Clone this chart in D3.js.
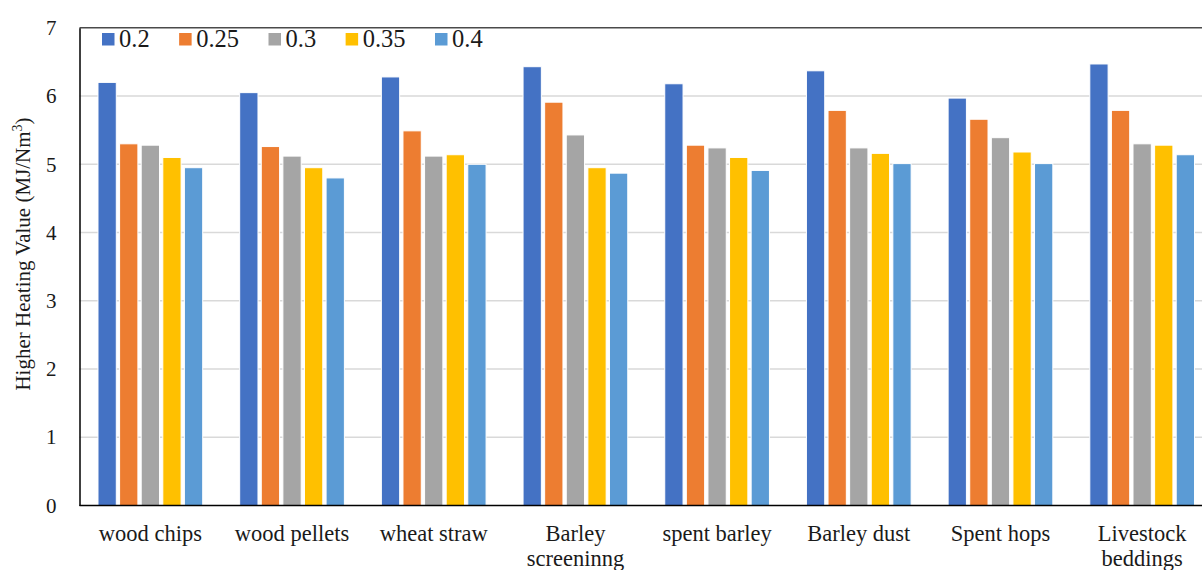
<!DOCTYPE html>
<html>
<head>
<meta charset="utf-8">
<script src="https://cdn.jsdelivr.net/npm/d3@7"></script>
<style>
  html, body { margin: 0; padding: 0; background: #fff; }
  svg { display: block; }
  svg text { font-family: "Liberation Serif", "Times New Roman", serif; }
</style>
</head>
<body>
<svg id="chart" width="1202" height="570"></svg>
<script>
// Biomass feedstocks along the x axis
const categories = ["wood chips", "wood pellets", "wheat straw", "Barley screeninng",
  "spent barley", "Barley dust", "Spent hops", "Livestock beddings"];

// Series labels (legend)
const seriesNames = ["0.2", "0.25", "0.3", "0.35", "0.4"];

// Higher heating value (MJ/Nm3) per feedstock, one array per series
const s020 = [6.20, 6.05, 6.28, 6.43, 6.18, 6.37, 5.97, 6.47];
const s025 = [5.30, 5.26, 5.49, 5.91, 5.28, 5.79, 5.66, 5.79];
const s030 = [5.28, 5.12, 5.12, 5.43, 5.24, 5.24, 5.39, 5.30];
const s035 = [5.10, 4.95, 5.14, 4.95, 5.10, 5.16, 5.18, 5.28];
const s040 = [4.95, 4.80, 5.00, 4.87, 4.91, 5.01, 5.01, 5.14];

const yTicks = [0, 1, 2, 3, 4, 5, 6, 7];
const colors = ["#4472C4", "#ED7D31", "#A5A5A5", "#FFC000", "#5B9BD5"];

const seriesValues = [s020, s025, s030, s035, s040];
const rows = categories.map((c, i) => ({
  category: c,
  values: seriesNames.map((s, j) => ({ key: s, value: seriesValues[j][i] }))
}));

const svg = d3.select("#chart");
const plotLeft = 79.5, plotRight = 1213, plotTop = 27.8, plotBottom = 505.5;

const x0 = d3.scaleBand().domain(categories).range([plotLeft, plotRight])
  .paddingInner(0.261).paddingOuter(0.1305);
const x1 = d3.scaleBand().domain(seriesNames).range([0, x0.bandwidth()])
  .paddingInner(0.153).paddingOuter(0);
const y = d3.scaleLinear().domain([0, 7]).range([plotBottom, plotTop]);
const color = d3.scaleOrdinal().domain(seriesNames).range(colors);

// Horizontal gridlines
svg.append("g").selectAll("line")
  .data(yTicks.filter(t => t > 0 && t < 7))
  .join("line")
  .attr("x1", plotLeft).attr("x2", 1202)
  .attr("y1", d => y(d)).attr("y2", d => y(d))
  .attr("stroke", "#D9D9D9").attr("stroke-width", 1.5);

// Top border of the plot area
svg.append("line")
  .attr("x1", plotLeft).attr("x2", 1202)
  .attr("y1", y(7)).attr("y2", y(7))
  .attr("stroke", "#4a4a4a").attr("stroke-width", 1.6);

// Bars
svg.append("g").selectAll("g")
  .data(rows)
  .join("g")
  .attr("transform", d => `translate(${x0(d.category)},0)`)
  .selectAll("rect")
  .data(d => d.values)
  .join("rect")
  .attr("x", d => x1(d.key))
  .attr("width", x1.bandwidth())
  .attr("y", d => y(d.value))
  .attr("height", d => y(0) - y(d.value))
  .attr("fill", d => color(d.key))
  .attr("stroke", "#ffffff").attr("stroke-width", 1);

// Y axis
const yAxis = svg.append("g")
  .attr("transform", `translate(${plotLeft},0)`)
  .call(d3.axisLeft(y).tickValues(yTicks).tickFormat(d3.format("d")).tickSize(0).tickPadding(23));
yAxis.attr("font-family", null);
yAxis.select(".domain").attr("stroke", "#000").attr("stroke-width", 1.5);
yAxis.selectAll("text")
  .attr("font-size", 21).attr("fill", "#1a1a1a");

// X axis line
svg.append("line")
  .attr("x1", plotLeft).attr("x2", 1202)
  .attr("y1", y(0)).attr("y2", y(0))
  .attr("stroke", "#000").attr("stroke-width", 1.5);

// Category labels, wrapped to the band width
const maxW = x0.step();
const labels = svg.append("g").selectAll("text")
  .data(categories)
  .join("text")
  .attr("x", d => x0(d) + x0.bandwidth() / 2)
  .attr("y", 541)
  .attr("text-anchor", "middle")
  .attr("font-size", 22.5)
  .attr("fill", "#1a1a1a");
labels.each(function (d) {
  const t = d3.select(this);
  const cx = x0(d) + x0.bandwidth() / 2;
  const words = d.split(" ");
  let line = [];
  let tspan = t.append("tspan").attr("x", cx).attr("dy", 0);
  words.forEach(w => {
    line.push(w);
    tspan.text(line.join(" "));
    if (tspan.node().getComputedTextLength() > maxW && line.length > 1) {
      line.pop();
      tspan.text(line.join(" "));
      line = [w];
      tspan = t.append("tspan").attr("x", cx).attr("dy", 24.5).text(w);
    }
  });
});

// Y axis title
const title = svg.append("text")
  .attr("transform", "translate(30,254) rotate(-90)")
  .attr("text-anchor", "middle")
  .attr("font-size", 21)
  .attr("fill", "#1a1a1a");
title.append("tspan").text("Higher Heating Value (MJ/Nm");
title.append("tspan").text("3").attr("font-size", 14).attr("dy", -8);
title.append("tspan").text(")").attr("dy", 8);

// Legend
const legend = svg.append("g");
let lx = 102;
seriesNames.forEach(s => {
  legend.append("rect")
    .attr("x", lx).attr("y", 33).attr("width", 12.5).attr("height", 12.5)
    .attr("fill", color(s));
  const txt = legend.append("text")
    .attr("x", lx + 17).attr("y", 46.5)
    .attr("font-size", 24.5).attr("fill", "#1a1a1a")
    .text(s);
  lx += 17 + txt.node().getComputedTextLength() + 29.5;
});
</script>
</body>
</html>
